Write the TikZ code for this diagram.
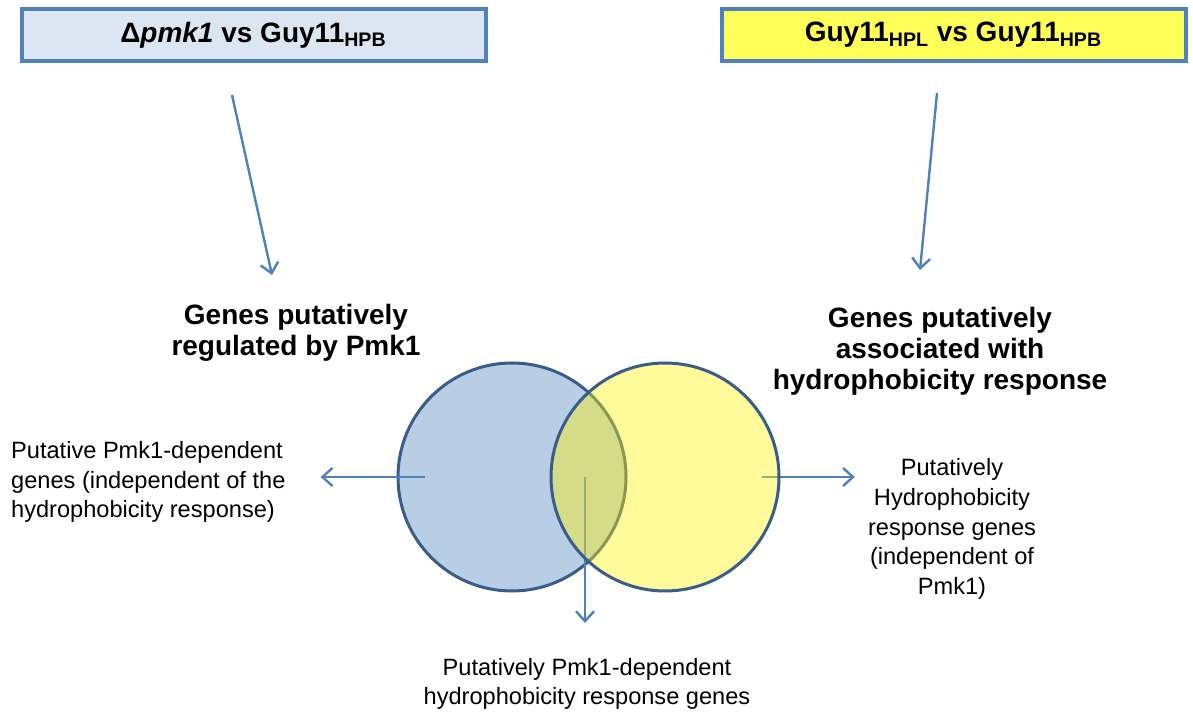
\documentclass[tikz,border=0pt]{standalone}
\usepackage{fontspec}
\setmainfont{Liberation Sans}
\usetikzlibrary{arrows.meta}

\definecolor{boxline}{RGB}{79,129,189}
\definecolor{pmkfill}{RGB}{220,230,242}
\definecolor{hplfill}{RGB}{255,255,90}
\definecolor{circline}{RGB}{56,93,138}
\definecolor{pmkset}{RGB}{185,205,229}

\tikzset{
  cmpbox/.style={draw=boxline,line width=2pt,minimum width=232pt,minimum height=26pt,
    inner sep=0pt,font=\fontsize{14}{16}\selectfont\bfseries},
  setlabel/.style={align=center,inner sep=0pt,font=\fontsize{14}{15.4}\selectfont\bfseries},
  genelabel/.style={inner sep=0pt,font=\fontsize{11.8}{14.8}\selectfont},
  venn/.style={circle,draw=circline,line width=1.5pt,minimum size=114pt,inner sep=0pt},
}

\begin{document}
\begin{tikzpicture}[->,>={Straight Barb[length=5pt,width=9pt]},x=0.5pt,y=-0.5pt,line width=1.2pt,draw=boxline]
  \useasboundingbox (0,0) rectangle (1193,715);

  % comparisons
  \node[cmpbox,fill=pmkfill] (pmk) at (253.5,35) {Δ\textit{pmk1} vs Guy11\textsubscript{HPB}};
  \node[cmpbox,fill=hplfill] (hpl) at (953.5,35) {Guy11\textsubscript{HPL} vs Guy11\textsubscript{HPB}};

  \node[setlabel] (pmkgenes) at (296,333) {Genes putatively\\regulated by Pmk1};
  \node[setlabel] (hydgenes) at (940,351) {Genes putatively\\associated with\\hydrophobicity response};

  \coordinate (pmkfrom) at (232,95);
  \coordinate (pmkto) at (272,275);
  \coordinate (hplfrom) at (937,93);
  \coordinate (hplto) at (920,270);
  \draw (pmkfrom) -- (pmkto);
  \draw (hplfrom) -- (hplto);

  % venn
  \node[venn,fill=pmkset] (pmkset) at (512,477) {};

  \node[genelabel,align=left,anchor=west] (pmkonly) at (10,482)
    {Putative Pmk1-dependent\\genes (independent of the\\hydrophobicity response)};
  \node[genelabel,align=center] (hydonly) at (952,529)
    {Putatively\\Hydrophobicity\\response genes\\(independent of\\Pmk1)};
  \node[genelabel,align=center] (both) at (587,684)
    {Putatively Pmk1-dependent\\hydrophobicity response genes};

  \coordinate (pmkmark) at (425,477);
  \coordinate (hydmark) at (762,477);
  \coordinate (bothmark) at (585,477);
  \draw[shorten >=17pt] (pmkmark) -- (pmkmark -| pmkonly.east);
  \draw[shorten >=6pt] (hydmark) -- (hydmark -| hydonly.west);
  \draw[shorten >=17pt] (bothmark) -- (bothmark |- both.north);

  \node[venn,fill=yellow,fill opacity=0.4] (hydset) at (665,477) {};
\end{tikzpicture}
\end{document}
